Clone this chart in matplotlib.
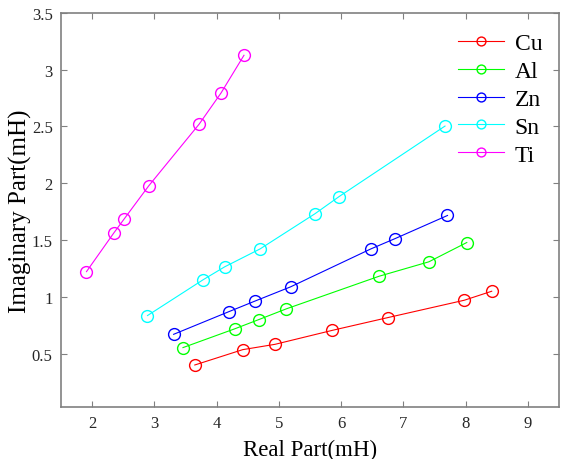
"""
Impedance of metal samples: real vs imaginary part
"""
import matplotlib
matplotlib.use("Agg")
import matplotlib.pyplot as plt

# Real part (mH) and imaginary part (mH) for each metal
cu_re = [3.65, 4.42, 4.94, 5.86, 6.75, 7.98, 8.42]
cu_im = [0.40, 0.535, 0.582, 0.705, 0.817, 0.970, 1.049]

al_re = [3.46, 4.29, 4.68, 5.12, 6.61, 7.41, 8.02]
al_im = [0.553, 0.718, 0.800, 0.894, 1.181, 1.308, 1.478]

zn_re = [3.31, 4.20, 4.61, 5.19, 6.48, 6.87, 7.71]
zn_im = [0.670, 0.870, 0.961, 1.088, 1.422, 1.513, 1.716]

sn_re = [2.89, 3.78, 4.13, 4.70, 5.58, 5.97, 7.67]
sn_im = [0.835, 1.149, 1.264, 1.422, 1.731, 1.883, 2.503]

ti_re = [1.91, 2.35, 2.52, 2.91, 3.72, 4.07, 4.44]
ti_im = [1.222, 1.563, 1.689, 1.977, 2.520, 2.793, 3.126]

series = [("Cu", cu_re, cu_im, "#ff0000"),
          ("Al", al_re, al_im, "#00ff00"),
          ("Zn", zn_re, zn_im, "#0000ff"),
          ("Sn", sn_re, sn_im, "#00ffff"),
          ("Ti", ti_re, ti_im, "#ff00ff")]

plt.rcParams['font.family'] = ['Liberation Serif', 'DejaVu Serif']

fig = plt.figure(figsize=(5.62, 4.6), dpi=100)
ax = fig.add_axes([0.1085, 0.113, 0.886, 0.857])

for name, re, im, color in series:
    ax.plot(re, im, '-o', color=color, lw=0.8, markersize=8.5,
            markerfacecolor='none', markeredgewidth=1.0, label=name)

ax.set_xlim(1.5, 9.5)
ax.set_ylim(0.03, 3.5)
ax.set_xticks(range(2, 10))
ax.set_yticks([0.5, 1, 1.5, 2, 2.5, 3, 3.5])
ax.set_yticklabels(['0.5', '1', '1.5', '2', '2.5', '3', '3.5'])

axis_gray = '#808080'
for side in ax.spines.values():
    side.set_color(axis_gray)
    side.set_linewidth(1.2)
ax.tick_params(direction='in', top=True, right=True, length=4,
               color=axis_gray, labelsize=12, labelcolor='#262626', pad=6)

ax.set_xlabel("Real Part(mH)", fontsize=16.5, labelpad=5.5)
ax.set_ylabel("Imaginary Part(mH)", fontsize=18, labelpad=0)

ax.legend(loc='upper right', bbox_to_anchor=(1.0, 0.992), frameon=False,
          fontsize=17, handlelength=1.95, labelspacing=0.27,
          handletextpad=0.45, borderaxespad=0.3, markerscale=0.75)

fig.savefig("out.png", dpi=100)
